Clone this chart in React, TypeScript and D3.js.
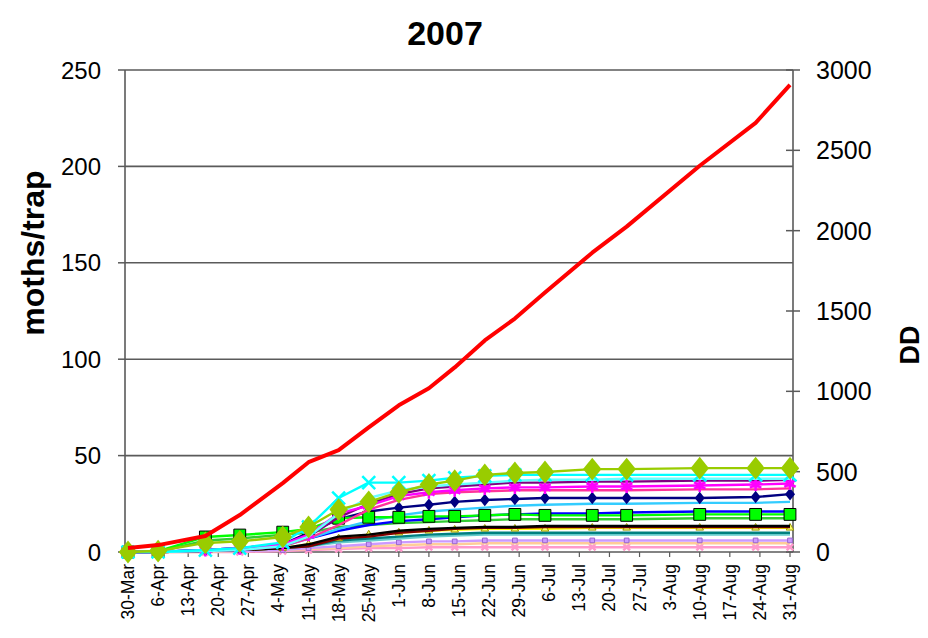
import React from "react";
import * as d3 from "d3";

const sampleDates = [
  "2007-03-30", "2007-04-06", "2007-04-17", "2007-04-25", "2007-05-05",
  "2007-05-11", "2007-05-18", "2007-05-25", "2007-06-01", "2007-06-08",
  "2007-06-14", "2007-06-21", "2007-06-28", "2007-07-05", "2007-07-16",
  "2007-07-24", "2007-08-10", "2007-08-23", "2007-08-31",
];

const degreeDays = [25, 43, 100, 230, 429, 559, 634, 776, 913, 1019, 1149, 1317, 1453, 1615, 1863, 2025, 2404, 2671, 2907];

const pink = [0, 0, 0, 0, 0.5, 1, 1.5, 2, 2, 2.5, 2.5, 2.5, 2.5, 2.5, 2.5, 2.5, 2.5, 2.5, 2.5];
const peach = [0, 0, 0, 0.5, 1, 1.5, 2, 3, 3.5, 4, 4, 4.5, 4.5, 4.5, 4.5, 4.5, 4.5, 4.5, 4.5];
const lavender = [0, 0.5, 0.5, 0.5, 1, 2, 3, 4, 5, 5.5, 5.5, 6, 6, 6, 6, 6, 6, 6, 6];
const turquoise = [0, 0, 0.5, 1, 2, 3, 5, 6, 7, 8, 8.5, 9, 9, 9, 9, 9, 9, 9, 9];
const teal = [0, 0, 0.5, 1, 2, 3, 6, 7, 8, 9, 9.5, 10, 10, 10, 10, 10, 10, 10, 10];
const yellow = [0, 0, 0.5, 1, 2, 4, 7, 9, 10, 11, 11.5, 12, 12, 12, 12.5, 12.5, 12.5, 12.5, 12.5];
const darkRed = [0, 0, 0.5, 1, 2, 3, 7, 8, 10, 11, 12, 12.5, 12.5, 13, 13, 13, 13, 13, 13];
const black = [0, 0, 0.5, 1, 2, 4, 8, 9, 11, 12, 12.5, 13, 13, 13.5, 13.5, 13.5, 13.5, 13.5, 13.5];
const greenLine = [0, 0, 6, 7, 9, 10, 13, 14, 15, 15.5, 16, 16.5, 17, 17, 17, 17, 17.5, 17.5, 17.5];
const blue = [0, 0, 1, 2, 4, 7, 11, 14, 16, 17, 18, 19, 19.5, 20, 20, 20.5, 21, 21, 21];
const greenSquares = [0, 0.5, 7.8, 8.8, 10.3, 12, 17.5, 18, 18, 18.5, 18.5, 19, 19.5, 19, 19, 19, 19.5, 19.5, 19.5];
const skyBlue = [0, 0, 1, 2, 3, 7, 12, 16, 19, 21, 22, 23, 24, 24.5, 25, 25, 25.5, 25.5, 26];
const navy = [0, 0, 1, 2, 4, 10, 17, 21, 23, 24.5, 26, 27, 27.5, 28, 28, 28, 28, 28.5, 30];
const rose = [0, 0, 0.5, 1, 3, 7, 14, 22, 27, 30, 31, 31.5, 32, 32, 32, 32, 32.5, 32.5, 33];
const magenta = [0, 0, 1, 2, 4, 9, 20, 24, 29, 31, 32, 33, 33.5, 33.5, 34, 34, 34.5, 35, 35.5];
const purple = [0, 0, 0.5, 1, 3, 8, 18, 25, 30, 33, 34, 35, 36, 36, 36.5, 36.5, 37, 37, 37.5];
const aqua = [0, 0, 0.5, 1, 3, 8, 20, 28, 32, 34, 35, 36, 37, 37.5, 37.5, 38, 38, 38, 38];
const cyan = [0, 0, 1, 2, 5, 13, 28, 36, 36, 37, 38.5, 39.5, 40, 40, 40, 40, 40, 40, 40];
const yellowGreen = [0, 0.5, 4.7, 5.5, 7.8, 13, 22, 26, 31, 35, 37, 40, 41, 41.5, 43, 43, 43.5, 43.5, 43.5];

const leftTicks = [0, 50, 100, 150, 200, 250];
const rightTicks = [0, 500, 1000, 1500, 2000, 2500, 3000];

type Marker = "none" | "diamond" | "square" | "times" | "star" | "triangle" | "smallSquare" | "smallDiamond";

const series: { name: string; values: number[]; color: string; width: number; marker: Marker; mfill?: string; mstroke?: string; msize?: number }[] = [
  { name: "pink", values: pink, color: "#FF99CC", width: 2.4, marker: "times", mstroke: "#FF99CC", msize: 30 },
  { name: "peach", values: peach, color: "#FFCC99", width: 2.4, marker: "none" },
  { name: "lavender", values: lavender, color: "#CC99FF", width: 2.4, marker: "smallSquare", mfill: "#CC99FF", mstroke: "#9966CC", msize: 22 },
  { name: "turquoise", values: turquoise, color: "#66CCCC", width: 2.4, marker: "none" },
  { name: "teal", values: teal, color: "#008080", width: 2.4, marker: "none" },
  { name: "yellow", values: yellow, color: "#FFFF00", width: 2.4, marker: "triangle", mfill: "#FFFF66", mstroke: "#999900", msize: 25 },
  { name: "darkRed", values: darkRed, color: "#800000", width: 2.4, marker: "none" },
  { name: "black", values: black, color: "#000000", width: 2.4, marker: "none" },
  { name: "greenLine", values: greenLine, color: "#33CC33", width: 2.4, marker: "none" },
  { name: "blue", values: blue, color: "#0000FF", width: 2.4, marker: "none" },
  { name: "skyBlue", values: skyBlue, color: "#33CCFF", width: 2.4, marker: "none" },
  { name: "navy", values: navy, color: "#000080", width: 2.4, marker: "smallDiamond", mfill: "#000080", msize: 45 },
  { name: "greenSquares", values: greenSquares, color: "#00FF00", width: 2.4, marker: "square", mfill: "#00FF00", mstroke: "#000000", msize: 140 },
  { name: "rose", values: rose, color: "#FF3399", width: 2.4, marker: "none" },
  { name: "purple", values: purple, color: "#800080", width: 2.4, marker: "none" },
  { name: "magenta", values: magenta, color: "#FF00FF", width: 2.4, marker: "star", mfill: "#FF00FF", mstroke: "#FF00FF", msize: 120 },
  { name: "aqua", values: aqua, color: "#66FFFF", width: 2.4, marker: "none" },
  { name: "cyan", values: cyan, color: "#00FFFF", width: 2.4, marker: "times", mstroke: "#00FFFF", msize: 110 },
  { name: "yellowGreen", values: yellowGreen, color: "#99CC00", width: 2.4, marker: "diamond", mfill: "#99CC00", msize: 150 },
];

const W = 928;
const H = 638;
const left = 125;
const right = 793;
const top = 70;
const bottom = 552;
const FONT = "'Liberation Sans', Arial, sans-serif";

export default function App() {
  const parse = d3.utcParse("%Y-%m-%d");
  const dates = sampleDates.map((s) => parse(s) as Date);
  const start = dates[0];
  const end = dates[dates.length - 1];
  const x = d3.scaleUtc().domain([start, end]).range([128, 790]);
  const y = d3.scaleLinear().domain([0, 250]).range([bottom, top]);
  const y2 = d3.scaleLinear().domain([0, 3000]).range([bottom, top]);
  const weekTicks = d3.utcFriday.range(start, d3.utcDay.offset(end, 1));
  const fmt = d3.utcFormat("%-d-%b");

  const line = d3
    .line<number>()
    .x((_, i) => x(dates[i]))
    .y((v) => y(v));
  const line2 = d3
    .line<number>()
    .x((_, i) => x(dates[i]))
    .y((v) => y2(v));

  const symbolFor = (m: Marker, size: number) => {
    switch (m) {
      case "diamond":
      case "smallDiamond":
        return d3.symbol(d3.symbolDiamond, size)();
      case "square":
      case "smallSquare":
        return d3.symbol(d3.symbolSquare, size)();
      case "times":
        return d3.symbol(d3.symbolTimes, size)();
      case "star":
        return d3.symbol(d3.symbolAsterisk, size)();
      case "triangle":
        return d3.symbol(d3.symbolTriangle, size)();
      default:
        return "";
    }
  };
  const starCore = d3.symbol(d3.symbolSquare, 45)();

  return (
    <svg width={W} height={H} style={{ position: "absolute", left: 0, top: 0, background: "#fff" }} fontFamily={FONT}>
      <rect x={0} y={0} width={W} height={H} fill="#fff" />
      <text x={445} y={45} textAnchor="middle" fontSize={34} fontWeight="bold" fill="#000">
        2007
      </text>

      {/* gridlines */}
      {leftTicks.filter((t) => t > 0).map((t) => (
        <line key={"g" + t} x1={left} x2={right} y1={y(t)} y2={y(t)} stroke="#5a5a5a" strokeWidth={1.6} />
      ))}

      {/* left axis */}
      <line x1={left} x2={left} y1={top} y2={bottom} stroke="#5a5a5a" strokeWidth={1.6} />
      {leftTicks.map((t) => (
        <g key={"l" + t}>
          <line x1={left - 7} x2={left} y1={y(t)} y2={y(t)} stroke="#5a5a5a" strokeWidth={1.5} />
          <text x={101} y={y(t)} dy="0.36em" textAnchor="end" fontSize={24} fill="#000">
            {t}
          </text>
        </g>
      ))}
      <text transform={`translate(44,253) rotate(-90)`} textAnchor="middle" fontSize={32} fontWeight="bold" fill="#000">
        moths/trap
      </text>

      {/* right axis */}
      <line x1={right} x2={right} y1={top} y2={bottom} stroke="#5a5a5a" strokeWidth={1.6} />
      {rightTicks.map((t) => (
        <g key={"r" + t}>
          <line x1={right - 7} x2={right + 7} y1={y2(t)} y2={y2(t)} stroke="#5a5a5a" strokeWidth={1.5} />
          <text x={816} y={y2(t)} dy="0.36em" textAnchor="start" fontSize={25} fill="#000">
            {t}
          </text>
        </g>
      ))}
      <text transform={`translate(919,345) rotate(-90)`} textAnchor="middle" fontSize={27} fontWeight="bold" fill="#000">
        DD
      </text>

      {/* x axis */}
      <line x1={left} x2={right} y1={bottom} y2={bottom} stroke="#5a5a5a" strokeWidth={1.6} />
      {weekTicks.map((d) => (
        <g key={"x" + d.toISOString()}>
          <line x1={x(d)} x2={x(d)} y1={bottom} y2={bottom + 5} stroke="#5a5a5a" strokeWidth={1.2} />
          <text
            transform={`translate(${x(d) + 6},${bottom + 12}) rotate(-90)`}
            textAnchor="end"
            fontSize={17.5}
            fill="#000"
          >
            {fmt(d)}
          </text>
        </g>
      ))}

      {/* moth series */}
      {series.map((s) => (
        <g key={s.name}>
          <path d={line(s.values) || ""} fill="none" stroke={s.color} strokeWidth={s.width} strokeLinejoin="round" />
          {s.marker !== "none" &&
            s.values.map((v, i) => (
              <g key={i} transform={`translate(${x(dates[i])},${y(v)})`}>
                {s.marker === "star" && <path d={starCore} fill={s.mfill} opacity={0.8} />}
                <path
                  d={symbolFor(s.marker, s.msize || 40)}
                  transform={s.marker === "diamond" || s.marker === "smallDiamond" ? "scale(1.4,1)" : ""}
                  fill={s.marker === "times" || s.marker === "star" ? "none" : s.mfill || s.color}
                  stroke={s.mstroke || "none"}
                  strokeWidth={s.marker === "times" || s.marker === "star" ? 2.5 : 1}
                />
              </g>
            ))}
        </g>
      ))}

      {/* degree days */}
      <path d={line2(degreeDays) || ""} fill="none" stroke="#FF0000" strokeWidth={4} strokeLinejoin="round" />
    </svg>
  );
}
